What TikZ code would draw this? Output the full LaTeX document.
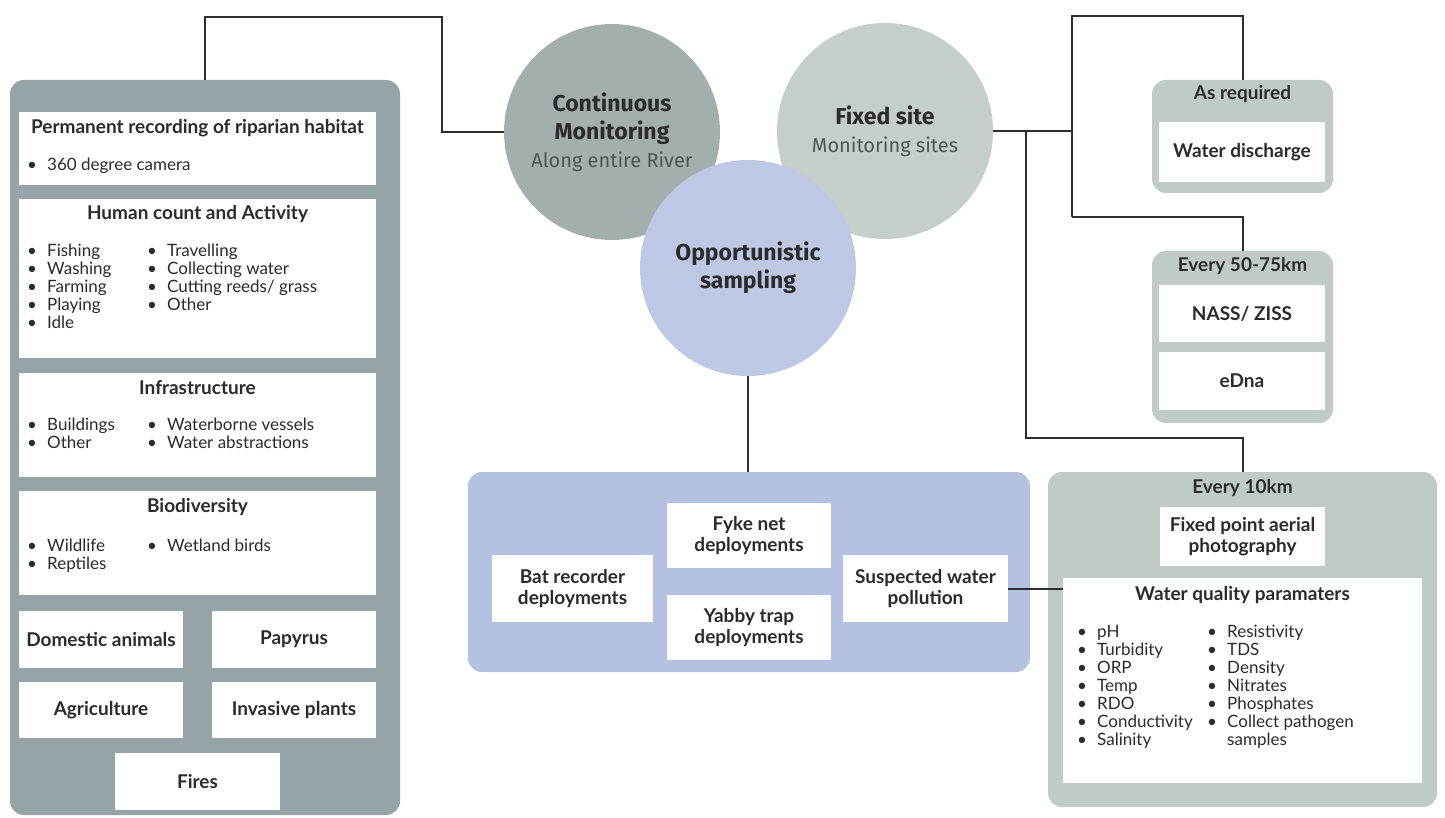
\documentclass[tikz,border=0pt]{standalone}
\usepackage{fontspec}
\setmainfont{Lato}
\newfontfamily\circfont{Fira Sans}

\definecolor{leftgray}{HTML}{96A3A7}
\definecolor{cmcol}{HTML}{A3AEAE}
\definecolor{fscol}{HTML}{C5CEC9}
\definecolor{oppcol}{HTML}{BEC8E4}
\definecolor{bluep}{HTML}{B5C1E0}
\definecolor{greenp}{HTML}{C0CBC6}
\definecolor{txt}{HTML}{2B2B2B}
\definecolor{subtxt}{HTML}{4E5656}
\definecolor{lnk}{HTML}{2E2E2E}

\newcommand{\itm}[1]{\makebox[20pt][l]{\textbullet}#1}
\newcommand{\subt}[1]{{\fontsize{20}{26}\selectfont\color{subtxt}#1}}

\begin{document}
\begin{tikzpicture}[x=1pt,y=-1pt,
  panel/.style={rounded corners=14pt, inner sep=0pt},
  wbox/.style={fill=white, inner sep=0pt},
  ttl/.style={font=\bfseries\fontsize{19}{21}\selectfont, text=txt, inner sep=0pt},
  lst/.style={font=\fontsize{17}{18}\selectfont, align=left, anchor=north west, inner sep=0pt, text=txt},
  bxt/.style={font=\bfseries\fontsize{19}{21}\selectfont, align=center, text=txt},
  circ/.style={circle, minimum size=216pt, inner sep=0pt, align=center, text=txt, font=\circfont\fontsize{23}{28}\selectfont},
  link/.style={draw=lnk, line width=2pt}]

% white background, fixes the page size
\useasboundingbox[fill=white] (0,0) rectangle (1445,818);

% left panel: what is recorded along the river
\node[panel, fill=leftgray, minimum width=390pt, minimum height=735pt] (lpanel) at (205,447.5) {};

\node[wbox, minimum width=357pt, minimum height=73pt] (perm) at (197.5,148.5) {};
\node[ttl] (permT) at (197.5,128) {Permanent recording of riparian habitat};
\node[lst] (permL) at (27,158) {\itm{360 degree camera}};

\node[wbox, minimum width=357pt, minimum height=159pt] (human) at (197.5,278.5) {};
\node[ttl] (humanT) at (197.5,214) {Human count and Activity};
\node[lst] (humanA) at (27,244) {\itm{Fishing}\\\itm{Washing}\\\itm{Farming}\\\itm{Playing}\\\itm{Idle}};
\node[lst] (humanB) at (147,244) {\itm{Travelling}\\\itm{Collecting water}\\\itm{Cutting reeds/ grass}\\\itm{Other}};

\node[wbox, minimum width=357pt, minimum height=104pt] (infra) at (197.5,425) {};
\node[ttl] (infraT) at (197.5,388) {Infrastructure};
\node[lst] (infraA) at (27,418) {\itm{Buildings}\\\itm{Other}};
\node[lst] (infraB) at (147,418) {\itm{Waterborne vessels}\\\itm{Water abstractions}};

\node[wbox, minimum width=357pt, minimum height=104pt] (bio) at (197.5,543) {};
\node[ttl] (bioT) at (197.5,507) {Biodiversity};
\node[lst] (bioA) at (27,539) {\itm{Wildlife}\\\itm{Reptiles}};
\node[lst] (bioB) at (147,539) {\itm{Wetland birds}};

\node[wbox, bxt, minimum width=164pt, minimum height=57pt] (dom) at (101,639.5) {Domestic animals};
\node[wbox, bxt, minimum width=164pt, minimum height=57pt] (pap) at (294,639.5) {Papyrus};
\node[wbox, bxt, minimum width=164pt, minimum height=56pt] (agri) at (101,710) {Agriculture};
\node[wbox, bxt, minimum width=164pt, minimum height=56pt] (inv) at (294,710) {Invasive plants};
\node[wbox, bxt, minimum width=165pt, minimum height=57pt] (fire) at (197.5,781.5) {Fires};

% the three circles
\node[circ, fill=cmcol] (cm) at (612,132) {\textbf{Continuous}\\\textbf{Monitoring}\\\subt{Along entire River}};
\node[circ, fill=fscol] (fs) at (885,131) {\textbf{Fixed site}\\\subt{Monitoring sites}};
\node[circ, fill=oppcol] (opp) at (748,268) {\textbf{Opportunistic}\\\textbf{sampling}};

% opportunistic panel
\node[panel, fill=bluep, minimum width=562pt, minimum height=200pt] (bpanel) at (749,572) {};
\node[wbox, bxt, minimum width=161pt, minimum height=67pt] (bat) at (572.5,588.5) {Bat recorder\\deployments};
\node[wbox, bxt, minimum width=164pt, minimum height=65pt] (fyke) at (749,535.5) {Fyke net\\deployments};
\node[wbox, bxt, minimum width=164pt, minimum height=65pt] (yabby) at (749,627.5) {Yabby trap\\deployments};
\node[wbox, bxt, minimum width=165pt, minimum height=67pt] (susp) at (925.5,588.5) {Suspected water\\pollution};

% fixed site panels
\node[panel, fill=greenp, minimum width=181pt, minimum height=113pt] (asreq) at (1242.5,136.5) {};
\node[ttl] (asreqT) at (1242.5,94) {As required};
\node[wbox, bxt, minimum width=166pt, minimum height=60pt] (wd) at (1242,152) {Water discharge};

\node[panel, fill=greenp, minimum width=181pt, minimum height=172pt] (e50) at (1242.5,337) {};
\node[ttl] (e50T) at (1242.5,266) {Every 50-75km};
\node[wbox, bxt, minimum width=166pt, minimum height=57pt] (nass) at (1242,313.5) {NASS/ ZISS};
\node[wbox, bxt, minimum width=166pt, minimum height=58pt] (edna) at (1242,381) {eDna};

\node[panel, fill=greenp, minimum width=389pt, minimum height=335pt] (e10) at (1242.5,639.5) {};
\node[ttl] (e10T) at (1242.5,488) {Every 10km};
\node[wbox, bxt, minimum width=165pt, minimum height=59pt] (fpa) at (1242.5,536.5) {Fixed point aerial\\photography};
\node[wbox, minimum width=359pt, minimum height=205pt] (wq) at (1242.5,680.5) {};
\node[ttl] (wqT) at (1242.5,595) {Water quality paramaters};
\node[lst] (wqA) at (1077,625) {\itm{pH}\\\itm{Turbidity}\\\itm{ORP}\\\itm{Temp}\\\itm{RDO}\\\itm{Conductivity}\\\itm{Salinity}};
\node[lst] (wqB) at (1207,625) {\itm{Resistivity}\\\itm{TDS}\\\itm{Density}\\\itm{Nitrates}\\\itm{Phosphates}\\\itm{Collect pathogen}\\\hspace*{20pt}samples};

% connectors
\coordinate (j1) at (442,17);
\coordinate (j2) at (1072,131);
\coordinate (j3) at (1072,16);
\coordinate (j4) at (1072,217);
\coordinate (j5) at (1026,131);
\coordinate (j6) at (1026,438);

\draw[link] (lpanel.north) |- (j1) |- (cm.west);
\draw[link] (opp.south) -- (opp.south |- bpanel.north);
\draw[link] (fs.east) -- (j2);
\draw[link] (j4) -- (j3) -| (asreq.north);
\draw[link] (j4) -| (e50.north);
\draw[link] (j5) -- (j6) -| (e10.north);
\draw[link] (susp.east) -- (susp.east -| wq.west);

\end{tikzpicture}
\end{document}
